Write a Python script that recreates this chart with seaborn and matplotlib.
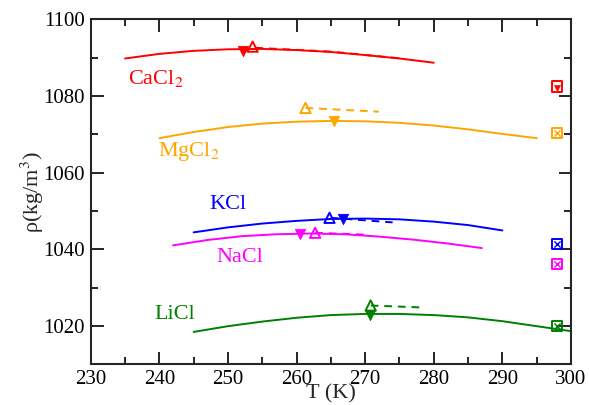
import numpy as np
import pandas as pd
import matplotlib
matplotlib.use("Agg")
import matplotlib.pyplot as plt
import seaborn as sns
from matplotlib.ticker import MultipleLocator

# solid curves
cacl2_T = [235, 240, 245, 250, 255, 260, 265, 270, 275, 280]
cacl2_rho = [1089.8, 1091.0, 1091.8, 1092.2, 1092.3, 1092.0, 1091.5, 1090.7, 1089.8, 1088.7]
mgcl2_T = [240, 245, 250, 255, 260, 265, 270, 275, 280, 285, 290, 295]
mgcl2_rho = [1069.0, 1070.6, 1071.9, 1072.8, 1073.3, 1073.5, 1073.4, 1073.0, 1072.3, 1071.3, 1070.1, 1069.0]
kcl_T = [245, 250, 255, 260, 265, 270, 275, 280, 285, 290]
kcl_rho = [1044.4, 1045.7, 1046.7, 1047.4, 1047.9, 1048.0, 1047.8, 1047.2, 1046.3, 1044.9]
nacl_T = [242, 247, 252, 257, 262, 267, 272, 277, 282, 287]
nacl_rho = [1041.0, 1042.4, 1043.4, 1043.9, 1044.1, 1043.9, 1043.3, 1042.5, 1041.5, 1040.3]
licl_T = [245, 250, 255, 260, 265, 270, 275, 280, 285, 290, 295, 300]
licl_rho = [1018.4, 1019.9, 1021.1, 1022.1, 1022.8, 1023.1, 1023.1, 1022.8, 1022.2, 1021.2, 1019.9, 1018.6]

# dashed segments
cacl2_dT = [254, 265, 275.3]
cacl2_drho = [1092.6, 1091.6, 1089.8]
mgcl2_dT = [261.3, 272]
mgcl2_drho = [1076.9, 1075.9]
kcl_dT = [265, 274]
kcl_drho = [1048.2, 1047.0]
nacl_dT = [262.7, 270.3]
nacl_drho = [1044.3, 1043.8]
licl_dT = [270.8, 278.1]
licl_drho = [1025.3, 1024.8]

# maxima: open up triangles and filled down triangles
up_T = [253.6, 261.3, 264.8, 262.7, 270.8]
up_rho = [1092.9, 1076.9, 1048.2, 1044.3, 1025.3]
down_T = [252.2, 265.5, 266.7, 260.5, 270.7]
down_rho = [1091.8, 1073.6, 1047.8, 1044.0, 1022.8]

# values at 298 K (open squares)
exp_T = [298, 298, 298, 298, 298]
exp_rho = [1082.5, 1070.3, 1041.4, 1036.2, 1020.0]

names = ["CaCl$_2$", "MgCl$_2$", "KCl", "NaCl", "LiCl"]
colors = ["red", "orange", "blue", "magenta", "green"]
label_T = [235.4, 239.8, 247.3, 248.3, 239.3]
label_rho = [1084.7, 1065.5, 1051.6, 1037.8, 1023.0]

sns.set_style("ticks")
plt.rcParams["font.family"] = ["Liberation Serif", "DejaVu Serif"]
plt.rcParams["mathtext.fontset"] = "stix"

fig = plt.figure(figsize=(5.89, 4.05), dpi=100)
ax = fig.add_axes([0.154, 0.101, 0.8155, 0.851])

solids = [(cacl2_T, cacl2_rho), (mgcl2_T, mgcl2_rho), (kcl_T, kcl_rho),
          (nacl_T, nacl_rho), (licl_T, licl_rho)]
dashes = [(cacl2_dT, cacl2_drho), (mgcl2_dT, mgcl2_drho), (kcl_dT, kcl_drho),
          (nacl_dT, nacl_drho), (licl_dT, licl_drho)]

for i, c in enumerate(colors):
    t, r = solids[i]
    sns.lineplot(x=t, y=r, color=c, lw=1.4, ax=ax)
    t, r = dashes[i]
    sns.lineplot(x=t, y=r, color=c, lw=1.4, ax=ax, linestyle=(0, (4, 3)))
    sns.scatterplot(x=[up_T[i]], y=[up_rho[i]], marker="^", s=55,
                    facecolor="none", edgecolor=c, linewidth=1.4, ax=ax)
    sns.scatterplot(x=[down_T[i]], y=[down_rho[i]], marker="v", s=55,
                    color=c, edgecolor=c, ax=ax)
    sns.scatterplot(x=[exp_T[i]], y=[exp_rho[i]], marker="s", s=55,
                    facecolor="none", edgecolor=c, linewidth=1.4, ax=ax)
    if i == 0:
        sns.scatterplot(x=[exp_T[i]], y=[exp_rho[i] - 0.4], marker="v", s=20,
                        color=c, edgecolor=c, ax=ax)
    else:
        sns.scatterplot(x=[exp_T[i]], y=[exp_rho[i]], marker="x", s=20,
                        color=c, linewidth=1.0, ax=ax)
    ax.text(label_T[i], label_rho[i], names[i], color=c, fontsize=16,
            ha="left", va="center")

ax.set_xlim(230, 300)
ax.set_ylim(1010, 1100)
ax.xaxis.set_major_locator(MultipleLocator(10))
ax.xaxis.set_minor_locator(MultipleLocator(5))
ax.yaxis.set_major_locator(MultipleLocator(20))
ax.yaxis.set_minor_locator(MultipleLocator(10))
ax.set_yticks([1020, 1040, 1060, 1080, 1100])
ax.tick_params(which="both", direction="in", top=True, right=True,
               labelsize=15, width=1.2, colors="black")
ax.tick_params(which="major", length=9, pad=4)
ax.tick_params(which="minor", length=5)
for s in ax.spines.values():
    s.set_linewidth(1.5)
ax.set_xlabel("T (K)", fontsize=16, labelpad=-3)
ax.set_ylabel("ρ(kg/m$^3$)", fontsize=16, labelpad=-2)

fig.savefig("out.png", dpi=100)
